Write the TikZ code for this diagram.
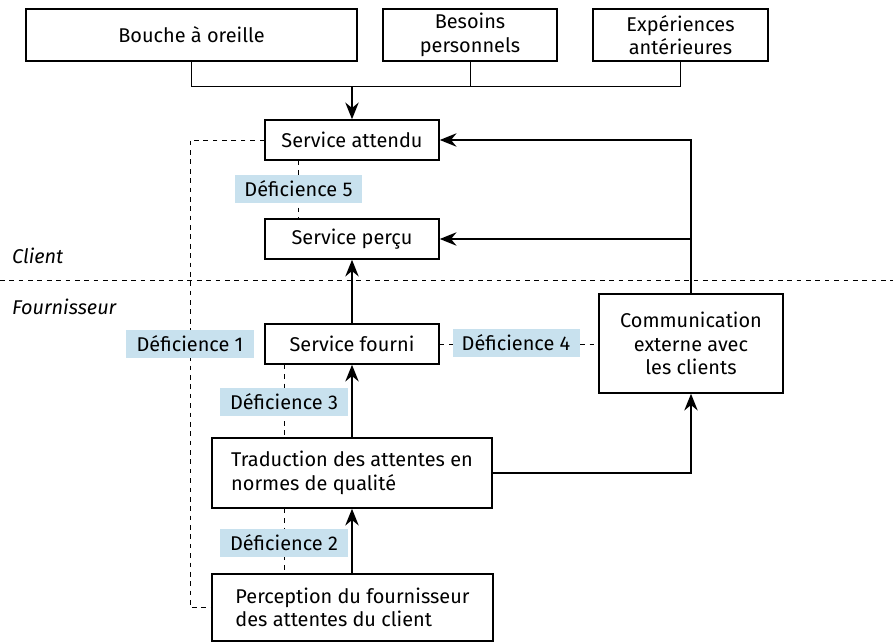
\documentclass[tikz,border=0pt]{standalone}
\usepackage{fontspec}
\setmainfont{Fira Sans}
\usetikzlibrary{arrows.meta}

\definecolor{gapblue}{RGB}{200,225,238}

\tikzset{
    box/.style={draw, line width=1.3pt, inner sep=0pt, align=center,
        font=\fontsize{17}{20}\selectfont},
    gap/.style={fill=gapblue, inner sep=0pt, minimum width=3.81cm,
        minimum height=0.84cm, font=\fontsize{17}{20}\selectfont},
    flow/.style={line width=1.7pt, -{Stealth[length=5mm,width=4mm]}},
    link/.style={line width=0.8pt},
    gapline/.style={line width=0.8pt, dash pattern=on 4pt off 4pt},
}

\begin{document}
\begin{tikzpicture}[x=0.03cm, y=-0.03cm]
    \useasboundingbox (0,0) rectangle (893,643);

    % Sources des attentes
    \node[box, minimum width=9.93cm, minimum height=1.56cm] (bouche) at (191.5,35) {Bouche à oreille};
    \node[box, minimum width=5.22cm, minimum height=1.56cm] (besoins) at (470,35) {Besoins\\personnels};
    \node[box, minimum width=5.25cm, minimum height=1.56cm] (experiences) at (680.5,35) {Expériences\\antérieures};

    % Côté client
    \node[box, minimum width=5.22cm, minimum height=1.2cm] (attendu) at (352,140) {Service attendu};
    \node[box, minimum width=5.22cm, minimum height=1.2cm] (percu) at (352,239) {Service perçu};

    % Côté fournisseur
    \node[box, minimum width=5.22cm, minimum height=1.2cm] (fourni) at (352,344) {Service fourni};
    \node[box, minimum width=8.4cm, minimum height=2.1cm, align=left] (traduction) at (352,473)
        {Traduction des attentes en\\normes de qualité};
    \node[box, minimum width=8.43cm, minimum height=2.01cm, align=left] (perception) at (352.5,607.5)
        {Perception du fournisseur\\des attentes du client};
    \node[box, minimum width=5.52cm, minimum height=2.97cm] (comm) at (691,343.5)
        {Communication\\externe avec\\les clients};

    % Séparation client / fournisseur
    \coordinate (sepL) at (0,280);
    \coordinate (sepR) at (893,280);
    \draw[gapline] (sepL) -- (sepR);
    \node[anchor=west, font=\fontsize{17}{20}\selectfont\itshape] (client) at (8,256) {Client};
    \node[anchor=west, font=\fontsize{17}{20}\selectfont\itshape] (fournisseur) at (8,307) {Fournisseur};

    % Flèches
    \coordinate (merge) at (352,86);
    \draw[link] (bouche.south) |- (merge);
    \draw[link] (experiences.south) |- (merge);
    \draw[link] (besoins.south) -- (besoins.south |- merge);
    \draw[flow] (merge) -- (attendu.north);
    \draw[flow] (comm.north) |- (attendu.east);
    \draw[flow] (comm.north) |- (percu.east);
    \draw[flow] (fourni) -- (percu);
    \draw[flow] (traduction) -- (fourni);
    \draw[flow] (perception.north -| traduction) -- (traduction);
    \draw[flow] (traduction.east) -| (comm.south);

    % Déficiences
    \coordinate (g1) at (190,344);
    \coordinate (g2) at (284,543);
    \coordinate (g3) at (284,401.5);
    \coordinate (g4) at (516,343);
    \coordinate (g5) at (298.5,189);
    \draw[gapline] (attendu.west) -| (g1) |- (perception.west);
    \draw[gapline] (attendu.south -| g5) -- (percu.north -| g5);
    \draw[gapline] (fourni.south -| g3) -- (traduction.north -| g3);
    \draw[gapline] (traduction.south -| g2) -- (perception.north -| g2);
    \draw[gapline] (fourni.east) -- (comm.west |- fourni.east);
    \node[gap] (def1) at (g1) {Déficience 1};
    \node[gap] (def2) at (g2) {Déficience 2};
    \node[gap] (def3) at (g3) {Déficience 3};
    \node[gap] (def4) at (g4) {Déficience 4};
    \node[gap] (def5) at (g5) {Déficience 5};
\end{tikzpicture}
\end{document}
